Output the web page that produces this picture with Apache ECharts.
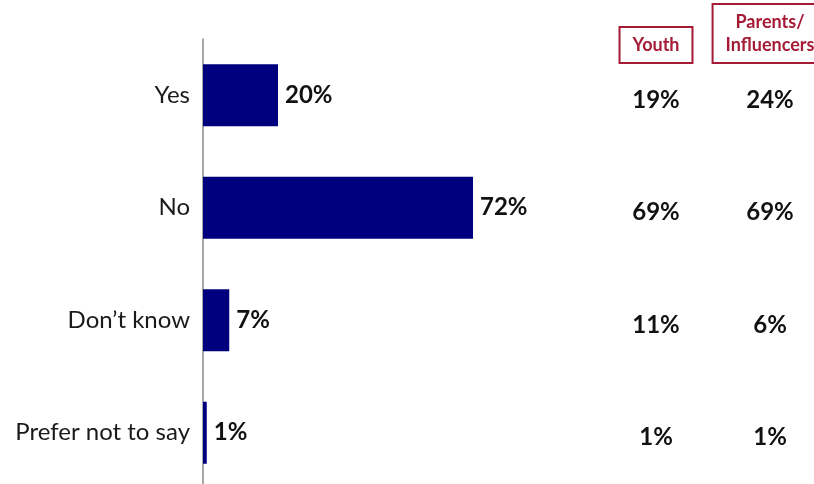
<!DOCTYPE html>
<html>
<head>
<meta charset="utf-8">
<script src="https://cdn.jsdelivr.net/npm/echarts@6/dist/echarts.min.js"></script>
<style>
  html, body { margin: 0; padding: 0; background: #fff; overflow: hidden; }
  /* drawing surface runs a little past the window so the last row and the
     right-hand header box can bleed off the edges */
  #chart { width: 840px; height: 500px; }
</style>
</head>
<body>
<div id="chart"></div>
<script>
// Survey answers: overall bar plus the two sub-group columns
const categories = ['Yes', 'No', 'Don\u2019t know', 'Prefer not to say'];
const totalValues = [20, 72, 7, 1];
const groupNames = ['Youth', 'Parents/\nInfluencers'];
const youthValues = [19, 69, 11, 1];
const parentValues = [24, 69, 6, 1];

const FONT = 'Lato, "Open Sans", sans-serif';
const RED = '#a51b35';

// one scatter point per (group, answer) cell; the label carries the value
const groupCells = [];
[youthValues, parentValues].forEach((vals, g) => {
  vals.forEach((v, i) => groupCells.push({ value: [g, i], pct: v }));
});

const chart = echarts.init(document.getElementById('chart'), null, { renderer: 'canvas' });
chart.setOption({
  animation: false,
  backgroundColor: '#fff',
  grid: [
    { left: 203, top: 39, width: 375, height: 450 },
    { left: 599, top: 39, width: 228, height: 450 }
  ],
  xAxis: [
    { gridIndex: 0, type: 'value', min: 0, max: 100, show: false },
    {
      gridIndex: 1, type: 'category', data: groupNames, position: 'top',
      offset: -24,
      axisLine: { show: false }, axisTick: { show: false }, splitLine: { show: false },
      axisLabel: {
        margin: 0,
        interval: 0,
        color: RED,
        fontFamily: FONT,
        fontWeight: 'bold',
        fontSize: 18,
        lineHeight: 23,
        borderColor: RED,
        borderWidth: 2,
        padding: [7, 13, 6, 13],
        verticalAlign: 'bottom'
      }
    }
  ],
  yAxis: [
    {
      gridIndex: 0, type: 'category', data: categories, inverse: true,
      axisLine: { show: true, lineStyle: { color: '#8a8a8a', width: 1.5 } },
      axisTick: { show: false },
      axisLabel: { color: '#1a1a1a', fontFamily: FONT, fontSize: 24, margin: 13 }
    },
    {
      gridIndex: 1, type: 'category', data: categories, inverse: true, show: false
    }
  ],
  series: [
    {
      type: 'bar',
      xAxisIndex: 0, yAxisIndex: 0,
      data: totalValues,
      barWidth: 62,
      itemStyle: { color: '#00007f' },
      label: {
        show: true, position: 'right', distance: 7,
        formatter: p => p.value + '%',
        color: '#111', fontFamily: FONT, fontWeight: 'bold', fontSize: 24
      }
    },
    {
      type: 'scatter',
      xAxisIndex: 1, yAxisIndex: 1,
      symbolSize: 0,
      data: groupCells,
      itemStyle: { opacity: 1 },
      label: {
        show: true, position: 'inside', offset: [0, 5],
        formatter: p => p.data.pct + '%',
        color: '#111', fontFamily: FONT, fontWeight: 'bold', fontSize: 24
      }
    }
  ]
});
</script>
</body>
</html>
